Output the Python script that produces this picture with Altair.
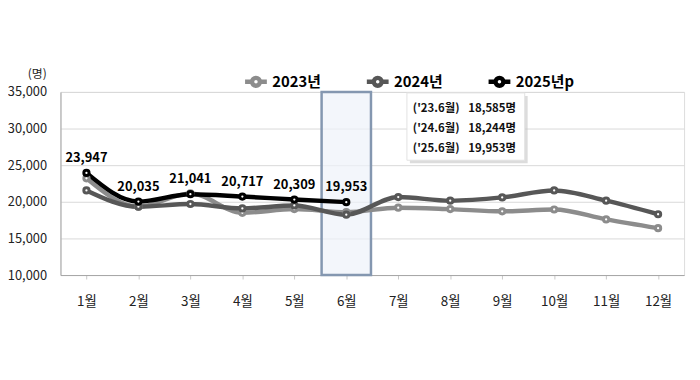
import altair as alt
import pandas as pd

months = ["1월", "2월", "3월", "4월", "5월", "6월", "7월", "8월", "9월", "10월", "11월", "12월"]
series_names = ["2023년", "2024년", "2025년p"]
v2023 = [23200, 19330, 21150, 18500, 19000, 18585, 19200, 19000, 18700, 18950, 17600, 16400]
v2024 = [21550, 19330, 19700, 19100, 19500, 18244, 20650, 20150, 20600, 21550, 20150, 18300]
v2025 = [23947, 20035, 21041, 20717, 20309, 19953]
y_ticks = [10000, 15000, 20000, 25000, 30000, 35000]
highlight_month = ["6월"]
ann_labels = ["('23.6월)", "('24.6월)", "('25.6월)"]
ann_values = ["18,585명", "18,244명", "19,953명"]

rows = []
for name, vals in zip(series_names, [v2023, v2024, v2025]):
    for m, v in zip(months, vals):
        rows.append({"series": name, "month": m, "value": v})
df = pd.DataFrame(rows)
df25 = df[df.series == "2025년p"].copy()
df25["label"] = df25["value"].map(lambda v: f"{v:,}")

FONT = "Noto Sans CJK KR"
colors = ["#8c8c8c", "#575757", "#000000"]

x_axis = alt.Axis(labelAngle=0, ticks=True, tickSize=4, tickColor="#c8c8c8", tickOffset=0,
                  labelPadding=16, labelFontSize=13.5,
                  labelFont=FONT, labelColor="#222", domainColor="#a6a6a6", grid=False)
x_enc = alt.X("month:N", sort=months, title=None,
              scale=alt.Scale(domain=months, paddingInner=0, paddingOuter=0), axis=x_axis)
y_scale = alt.Scale(domain=[10000, 35000], nice=False, zero=False)
y_axis = alt.Axis(values=y_ticks, labelExpr="format(datum.value, ',.0f')", ticks=False, labelPadding=14,
                  labelFontSize=13, labelFont=FONT, labelColor="#222",
                  domainColor="#a6a6a6", gridColor="#d9d9d9",
                  titleAngle=0, titleX=-24, titleY=-19, titleAlign="center",
                  titleBaseline="middle", titleFontWeight="normal",
                  titleFontSize=12, titleFont=FONT, titleColor="#222")
y_enc = alt.Y("value:Q", scale=y_scale, title="(명)", axis=y_axis)

color_enc = alt.Color("series:N", scale=alt.Scale(domain=series_names, range=colors),
                      title=None,
                      legend=alt.Legend(orient="none", legendX=184, legendY=-24,
                                        direction="horizontal", columnPadding=36,
                                        labelFontSize=15, labelFontWeight="bold",
                                        labelFont=FONT, labelColor="#000", labelOffset=3,
                                        symbolType="M-1,0L-0.36,0M0.36,0L1,0M-0.36,0A0.36,0.36,0,1,0,0.36,0A0.36,0.36,0,1,0,-0.36,0",
                                        symbolSize=484, symbolStrokeWidth=3.5,
                                        symbolFillColor="white"))

base = alt.Chart(df)

hl = alt.Chart(pd.DataFrame({"month": highlight_month, "value": [35000], "bot": [10000]})).mark_bar(
    width=alt.RelativeBandSize(0.95), fill="#eef2fa", fillOpacity=0.7,
    stroke="#8497b0", strokeWidth=2.5
).encode(x=x_enc, y=y_enc, y2="bot:Q")

lines = base.mark_line(interpolate="monotone").encode(
    x=x_enc, y=y_enc, color=color_enc,
    strokeWidth=alt.StrokeWidth("series:N", scale=alt.Scale(domain=series_names, range=[4.5, 4.5, 3.5]), legend=None),
)
points = base.mark_point(filled=False, fill="white", fillOpacity=1, size=28, strokeWidth=3, opacity=1).encode(
    x=x_enc, y=y_enc, color=color_enc
)
labels = alt.Chart(df25).mark_text(dy=-15, fontSize=13, fontWeight="bold", font=FONT, color="#000").encode(
    x=x_enc, y=y_enc, text="label:N"
)

one = df25.head(1)
shadow = alt.Chart(one).mark_rect(fill="#c4c4c4", opacity=0.6).encode(
    x=alt.value(353), x2=alt.value(472), y=alt.value(4), y2=alt.value(72))
box = alt.Chart(one).mark_rect(fill="white", stroke="#e2e2e2", strokeWidth=1).encode(
    x=alt.value(350), x2=alt.value(469), y=alt.value(1), y2=alt.value(69))
ann1 = alt.Chart(one).mark_text(align="left", baseline="middle", fontSize=11.5,
                                fontWeight="bold", font=FONT, lineBreak="\n",
                                lineHeight=20.5, color="#111").encode(
    x=alt.value(356), y=alt.value(17), text=alt.value("\n".join(ann_labels)))
ann2 = alt.Chart(one).mark_text(align="left", baseline="middle", fontSize=11.5,
                                fontWeight="bold", font=FONT, lineBreak="\n",
                                lineHeight=20.5, color="#111").encode(
    x=alt.value(412), y=alt.value(17), text=alt.value("\n".join(ann_values)))

chart = alt.layer(hl, lines, points, labels, shadow, box, ann1, ann2).properties(
    width=630, height=185,
    autosize=alt.AutoSizeParams(type="none"),
    padding={"left": 53, "top": 83, "right": 8, "bottom": 80}
).configure_view(stroke="#d4d4d4", strokeWidth=1).configure(background="white")

chart.save("out.html", embed_options={"renderer": "svg", "actions": False})
